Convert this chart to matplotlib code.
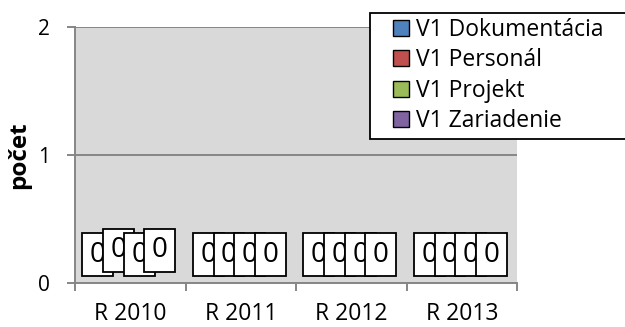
import numpy as np
import matplotlib.pyplot as plt
from matplotlib.patches import Patch, Rectangle
from matplotlib.legend_handler import HandlerPatch

# =========================
# Data
# =========================
years = ["R 2010", "R 2011", "R 2012", "R 2013"]
series = ["V1 Dokumentácia", "V1 Personál", "V1 Projekt", "V1 Zariadenie"]
dokumentacia = [0, 0, 0, 0]
personal = [0, 0, 0, 0]
projekt = [0, 0, 0, 0]
zariadenie = [0, 0, 0, 0]
values = [dokumentacia, personal, projekt, zariadenie]

colors = ["#4F81BD", "#C0504D", "#9BBB59", "#8064A2"]
axis_gray = "#868686"

plt.rcParams["font.family"] = ["Open Sans", "DejaVu Sans"]

# =========================
# Figure
# =========================
fig = plt.figure(figsize=(6.25, 3.27), dpi=100)
ax = fig.add_axes([75 / 625, 1 - 283 / 327, 442 / 625, 255.5 / 327])
ax.set_facecolor("#D9D9D9")

x = np.arange(len(years))
bar_width = 0.187

for i, vals in enumerate(values):
    pos = x + (i - 1.5) * bar_width
    ax.bar(pos, vals, width=bar_width, color=colors[i], zorder=2)
    for j, (px, v) in enumerate(zip(pos, vals)):
        # first group labels are slightly staggered in the original
        dy = 23.5 if (j == 0 and i % 2 == 1) else 20.5
        ax.annotate(
            f"{v}",
            xy=(px, v),
            xytext=(-1, dy),
            textcoords="offset points",
            ha="center",
            va="center",
            fontsize=20,
            zorder=3 + i,
            bbox=dict(boxstyle="square,pad=0.27", fc="white", ec="black", lw=1.3),
        )

# =========================
# Axes
# =========================
ax.set_xlim(-0.5, len(years) - 0.5)
ax.set_ylim(0, 2)
ax.set_yticks([0, 1, 2])
ax.set_yticklabels(["0", "1", "2"])
ax.yaxis.grid(True, color=axis_gray, lw=1.4)
ax.set_axisbelow(True)

ax.set_xticks(x)
ax.set_xticklabels(years)
ax.set_xticks(np.arange(len(years) + 1) - 0.5, minor=True)
ax.tick_params(axis="x", which="major", length=0, pad=14, labelsize=16.5)
ax.tick_params(axis="x", which="minor", length=5.5, width=1.4, color=axis_gray)
ax.tick_params(axis="y", length=6, width=1.4, color=axis_gray, pad=12, labelsize=15)

for side in ["top", "right"]:
    ax.spines[side].set_visible(False)
for side in ["left", "bottom"]:
    ax.spines[side].set_color(axis_gray)
    ax.spines[side].set_linewidth(1.4)

ax.set_ylabel("počet", fontsize=17.5, fontweight="bold", labelpad=5)


# =========================
# Legend
# =========================
# square marker sits at the right end of a wider handle box (indent like the original)
def square_handle(legend, orig_handle, xdescent, ydescent, width, height, fontsize):
    side = 11.5
    return Rectangle((width - side - xdescent, (height - side) / 2 - ydescent), side, side)


handles = [Patch(facecolor=c, edgecolor="black", lw=1.0) for c in colors]
leg = fig.legend(
    handles,
    series,
    loc="upper left",
    bbox_to_anchor=(370 / 625, 1 - 12.5 / 327, 0.425, 0.0),
    mode="expand",
    fontsize=16.5,
    handler_map={Patch: HandlerPatch(patch_func=square_handle)},
    handlelength=1.45,
    handleheight=0.6,
    handletextpad=0.3,
    labelspacing=0.27,
    borderpad=0.25,
    borderaxespad=0,
    fancybox=False,
    framealpha=1,
)
leg.get_frame().set_edgecolor("black")
leg.get_frame().set_linewidth(1.3)

fig.savefig("out.png", dpi=100)
